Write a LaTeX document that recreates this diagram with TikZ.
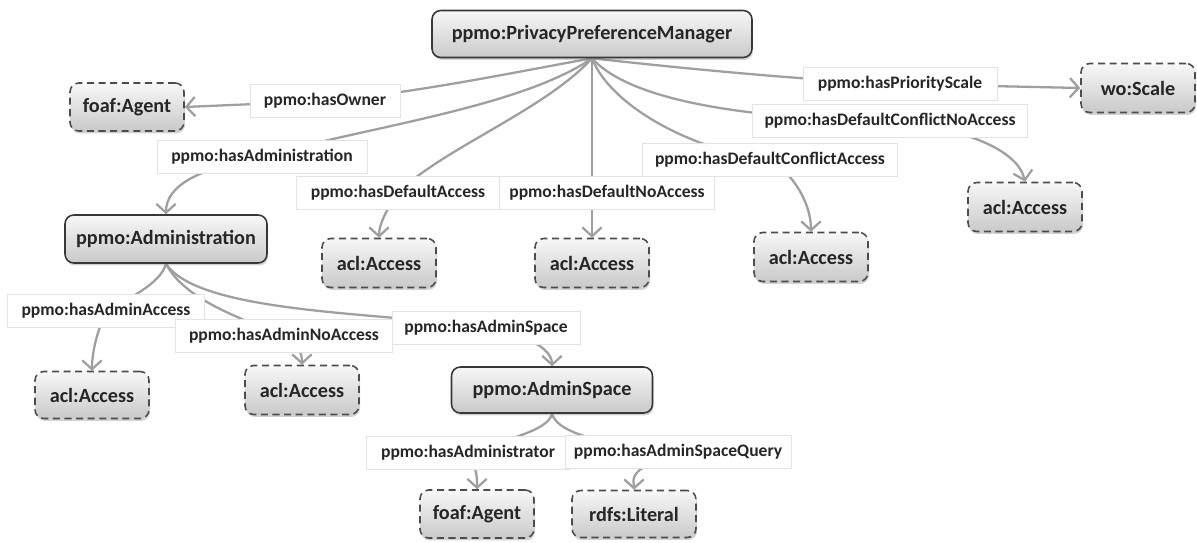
\documentclass[tikz,border=0pt]{standalone}
\usepackage{fontspec}
\setmainfont{Carlito}
\usetikzlibrary{arrows.meta,shadows,backgrounds}

\tikzset{
  cls/.style={rounded corners=5pt, top color=gray!6, bottom color=gray!42, draw=black!78, line width=0.9pt,
    drop shadow={shadow xshift=0.6pt, shadow yshift=-1.4pt, opacity=0.35},
    font=\fontsize{11.5}{13}\selectfont\bfseries, text=black!85, inner sep=0pt},
  val/.style={cls, draw=black!70, dashed, dash pattern=on 4pt off 2.6pt},
  prop/.style={fill=white, draw=gray!22, line width=0.4pt, font=\fontsize{10}{12}\selectfont\bfseries,
    text=black!85, minimum height=0.66cm, inner xsep=5pt, inner ysep=0pt},
  edge/.style={draw=gray!75, line width=1.3pt, -{Straight Barb[length=5pt,width=11pt,line width=1.3pt]}},
  link/.style={draw=gray!75, line width=1.3pt}
}

\begin{document}
\begin{tikzpicture}[x=0.02cm, y=-0.02cm]
    \useasboundingbox (0,0) rectangle (1197,542);
    % classes
    \node[cls, minimum width=6.4cm, minimum height=0.94cm] (ppm) at (592,34) {ppmo:PrivacyPreferenceManager};
    \node[cls, minimum width=4.04cm, minimum height=0.96cm] (admin) at (166,239) {ppmo:Administration};
    \node[cls, minimum width=4.02cm, minimum height=0.92cm] (space) at (552,390) {ppmo:AdminSpace};
    % values
    \node[val, minimum width=2.28cm, minimum height=0.96cm] (owner) at (127,107) {foaf:Agent};
    \node[val, minimum width=2.28cm, minimum height=0.98cm] (scale) at (1138,88) {wo:Scale};
    \node[val, minimum width=2.28cm, minimum height=0.98cm] (accA) at (379,263) {acl:Access};
    \node[val, minimum width=2.28cm, minimum height=0.98cm] (accB) at (592,263) {acl:Access};
    \node[val, minimum width=2.28cm, minimum height=0.98cm] (accC) at (811,257) {acl:Access};
    \node[val, minimum width=2.28cm, minimum height=0.98cm] (accD) at (1025,207) {acl:Access};
    \node[val, minimum width=2.28cm, minimum height=0.94cm] (accE) at (92,395) {acl:Access};
    \node[val, minimum width=2.28cm, minimum height=0.98cm] (accF) at (302,390) {acl:Access};
    \node[val, minimum width=2.28cm, minimum height=0.96cm] (agent) at (477,514) {foaf:Agent};
    \node[val, minimum width=2.48cm, minimum height=0.94cm] (literal) at (634,514) {rdfs:Literal};
    % properties
    \node[prop, minimum width=3.0cm] (hasOwner) at (325,101) {ppmo:hasOwner};
    \node[prop, minimum width=3.88cm] (hasPrio) at (900,84) {ppmo:hasPriorityScale};
    \node[prop, minimum width=5.5cm] (hasDCNA) at (890,121) {ppmo:hasDefaultConflictNoAccess};
    \node[prop, minimum width=5.1cm] (hasDCA) at (770,160) {ppmo:hasDefaultConflictAccess};
    \node[prop, minimum width=4.2cm] (hasAdm) at (262,157) {ppmo:hasAdministration};
    \node[prop, minimum width=4.08cm] (hasDA) at (398,193) {ppmo:hasDefaultAccess};
    \node[prop, minimum width=4.3cm] (hasDNA) at (607,193) {ppmo:hasDefaultNoAccess};
    \node[prop, minimum width=3.94cm] (hasAA) at (106,311) {ppmo:hasAdminAccess};
    \node[prop, minimum width=4.34cm] (hasANA) at (284,336) {ppmo:hasAdminNoAccess};
    \node[prop, minimum width=3.76cm] (hasAS) at (486,328) {ppmo:hasAdminSpace};
    \node[prop, minimum width=4.06cm] (hasAdr) at (468,453) {ppmo:hasAdministrator};
    \node[prop, minimum width=4.5cm] (hasASQ) at (678,452) {ppmo:hasAdminSpaceQuery};
    % edges, behind the boxes
    \begin{scope}[on background layer]
    \draw[link] (ppm.south) .. controls (500,75) and (420,92) .. (hasOwner.center);
    \draw[edge] (hasOwner.center) -- (owner.east);
    \draw[link] (ppm.south) .. controls (680,68) and (800,80) .. (hasPrio.center);
    \draw[edge] (hasPrio.center) -- (scale.west);
    \draw[link] (ppm.south) .. controls (625,95) and (720,118) .. (hasDCNA.center);
    \draw[edge] (hasDCNA.center) .. controls (965,128) and (1018,150) .. (accD.north);
    \draw[link] (ppm.south) .. controls (610,105) and (690,150) .. (hasDCA.center);
    \draw[edge] (hasDCA.center) .. controls (795,175) and (811,205) .. (accC.north);
    \draw[link] (ppm.south) .. controls (520,108) and (360,128) .. (hasAdm.center);
    \draw[edge] (hasAdm.center) .. controls (200,168) and (166,185) .. (admin.north);
    \draw[link] (ppm.south) .. controls (545,110) and (440,150) .. (hasDA.center);
    \draw[edge] (hasDA.center) .. controls (385,212) and (379,225) .. (accA.north);
    \draw[edge] (ppm.south) -- (accB.north);
    \draw[link] (admin.south) .. controls (160,285) and (125,300) .. (hasAA.center);
    \draw[edge] (hasAA.center) .. controls (98,330) and (92,350) .. (accE.north);
    \draw[link] (admin.south) .. controls (185,300) and (240,318) .. (hasANA.center);
    \draw[edge] (hasANA.center) .. controls (300,345) and (302,355) .. (accF.north);
    \draw[link] (admin.south) .. controls (200,315) and (390,312) .. (hasAS.center);
    \draw[edge] (hasAS.center) .. controls (530,335) and (552,350) .. (space.north);
    \draw[link] (space.south) .. controls (548,432) and (500,440) .. (hasAdr.center);
    \draw[edge] (hasAdr.center) .. controls (478,470) and (477,480) .. (agent.north);
    \draw[link] (space.south) .. controls (558,435) and (610,445) .. (hasASQ.center);
    \draw[edge] (hasASQ.center) .. controls (625,470) and (634,480) .. (literal.north);
    \end{scope}
\end{tikzpicture}
\end{document}
